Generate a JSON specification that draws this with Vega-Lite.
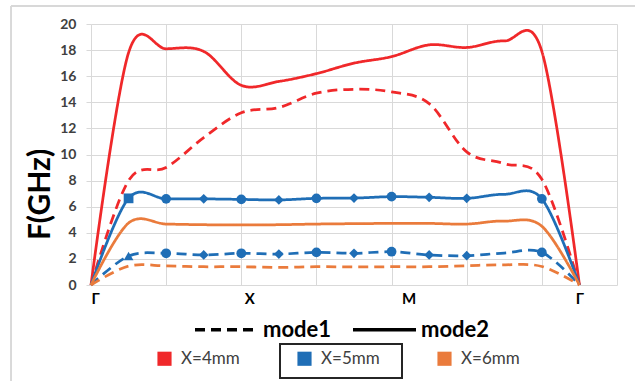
{
  "$schema": "https://vega.github.io/schema/vega-lite/v6.json",
  "autosize": "none",
  "width": 526,
  "height": 261,
  "padding": {"left": 91, "top": 24, "right": 18, "bottom": 96},
  "background": "white",
  "config": {"font": "Lato", "view": {"stroke": null}, "axis": {"labelOverlap": false}, "axisY": {"labelOverlap": false}},
  "data": {"values": [
    {"s": "X=4mm", "mode": "mode2", "i": 0, "f": 0},
    {"s": "X=4mm", "mode": "mode2", "i": 1, "f": 17.8},
    {"s": "X=4mm", "mode": "mode2", "i": 2, "f": 18.1},
    {"s": "X=4mm", "mode": "mode2", "i": 3, "f": 17.9},
    {"s": "X=4mm", "mode": "mode2", "i": 4, "f": 15.3},
    {"s": "X=4mm", "mode": "mode2", "i": 5, "f": 15.6},
    {"s": "X=4mm", "mode": "mode2", "i": 6, "f": 16.2},
    {"s": "X=4mm", "mode": "mode2", "i": 7, "f": 17.0},
    {"s": "X=4mm", "mode": "mode2", "i": 8, "f": 17.5},
    {"s": "X=4mm", "mode": "mode2", "i": 9, "f": 18.4},
    {"s": "X=4mm", "mode": "mode2", "i": 10, "f": 18.2},
    {"s": "X=4mm", "mode": "mode2", "i": 11, "f": 18.7},
    {"s": "X=4mm", "mode": "mode2", "i": 12, "f": 17.9},
    {"s": "X=4mm", "mode": "mode2", "i": 13, "f": 0},
    {"s": "X=4mm", "mode": "mode1", "i": 0, "f": 0},
    {"s": "X=4mm", "mode": "mode1", "i": 1, "f": 8.0},
    {"s": "X=4mm", "mode": "mode1", "i": 2, "f": 9.0},
    {"s": "X=4mm", "mode": "mode1", "i": 3, "f": 11.3},
    {"s": "X=4mm", "mode": "mode1", "i": 4, "f": 13.2},
    {"s": "X=4mm", "mode": "mode1", "i": 5, "f": 13.6},
    {"s": "X=4mm", "mode": "mode1", "i": 6, "f": 14.7},
    {"s": "X=4mm", "mode": "mode1", "i": 7, "f": 15.0},
    {"s": "X=4mm", "mode": "mode1", "i": 8, "f": 14.8},
    {"s": "X=4mm", "mode": "mode1", "i": 9, "f": 13.9},
    {"s": "X=4mm", "mode": "mode1", "i": 10, "f": 10.2},
    {"s": "X=4mm", "mode": "mode1", "i": 11, "f": 9.3},
    {"s": "X=4mm", "mode": "mode1", "i": 12, "f": 8.1},
    {"s": "X=4mm", "mode": "mode1", "i": 13, "f": 0},
    {"s": "X=5mm", "mode": "mode2", "i": 0, "f": 0},
    {"s": "X=5mm", "mode": "mode2", "i": 1, "f": 6.64, "mk": "s"},
    {"s": "X=5mm", "mode": "mode2", "i": 2, "f": 6.6, "mk": "o"},
    {"s": "X=5mm", "mode": "mode2", "i": 3, "f": 6.6, "mk": "d"},
    {"s": "X=5mm", "mode": "mode2", "i": 4, "f": 6.56, "mk": "o"},
    {"s": "X=5mm", "mode": "mode2", "i": 5, "f": 6.52, "mk": "d"},
    {"s": "X=5mm", "mode": "mode2", "i": 6, "f": 6.64, "mk": "o"},
    {"s": "X=5mm", "mode": "mode2", "i": 7, "f": 6.66, "mk": "d"},
    {"s": "X=5mm", "mode": "mode2", "i": 8, "f": 6.77, "mk": "o"},
    {"s": "X=5mm", "mode": "mode2", "i": 9, "f": 6.72, "mk": "d"},
    {"s": "X=5mm", "mode": "mode2", "i": 10, "f": 6.64, "mk": "d"},
    {"s": "X=5mm", "mode": "mode2", "i": 11, "f": 6.95},
    {"s": "X=5mm", "mode": "mode2", "i": 12, "f": 6.6, "mk": "o"},
    {"s": "X=5mm", "mode": "mode2", "i": 13, "f": 0},
    {"s": "X=5mm", "mode": "mode1", "i": 0, "f": 0},
    {"s": "X=5mm", "mode": "mode1", "i": 1, "f": 2.22, "mk": "t"},
    {"s": "X=5mm", "mode": "mode1", "i": 2, "f": 2.43, "mk": "o"},
    {"s": "X=5mm", "mode": "mode1", "i": 3, "f": 2.3, "mk": "d"},
    {"s": "X=5mm", "mode": "mode1", "i": 4, "f": 2.43, "mk": "o"},
    {"s": "X=5mm", "mode": "mode1", "i": 5, "f": 2.37, "mk": "d"},
    {"s": "X=5mm", "mode": "mode1", "i": 6, "f": 2.5, "mk": "o"},
    {"s": "X=5mm", "mode": "mode1", "i": 7, "f": 2.43, "mk": "d"},
    {"s": "X=5mm", "mode": "mode1", "i": 8, "f": 2.55, "mk": "o"},
    {"s": "X=5mm", "mode": "mode1", "i": 9, "f": 2.3, "mk": "d"},
    {"s": "X=5mm", "mode": "mode1", "i": 10, "f": 2.25, "mk": "d"},
    {"s": "X=5mm", "mode": "mode1", "i": 11, "f": 2.45},
    {"s": "X=5mm", "mode": "mode1", "i": 12, "f": 2.5, "mk": "o"},
    {"s": "X=5mm", "mode": "mode1", "i": 13, "f": 0},
    {"s": "X=6mm", "mode": "mode2", "i": 0, "f": 0},
    {"s": "X=6mm", "mode": "mode2", "i": 1, "f": 4.75},
    {"s": "X=6mm", "mode": "mode2", "i": 2, "f": 4.67},
    {"s": "X=6mm", "mode": "mode2", "i": 3, "f": 4.62},
    {"s": "X=6mm", "mode": "mode2", "i": 4, "f": 4.6},
    {"s": "X=6mm", "mode": "mode2", "i": 5, "f": 4.62},
    {"s": "X=6mm", "mode": "mode2", "i": 6, "f": 4.67},
    {"s": "X=6mm", "mode": "mode2", "i": 7, "f": 4.7},
    {"s": "X=6mm", "mode": "mode2", "i": 8, "f": 4.72},
    {"s": "X=6mm", "mode": "mode2", "i": 9, "f": 4.72},
    {"s": "X=6mm", "mode": "mode2", "i": 10, "f": 4.67},
    {"s": "X=6mm", "mode": "mode2", "i": 11, "f": 4.9},
    {"s": "X=6mm", "mode": "mode2", "i": 12, "f": 4.5},
    {"s": "X=6mm", "mode": "mode2", "i": 13, "f": 0},
    {"s": "X=6mm", "mode": "mode1", "i": 0, "f": 0},
    {"s": "X=6mm", "mode": "mode1", "i": 1, "f": 1.45},
    {"s": "X=6mm", "mode": "mode1", "i": 2, "f": 1.46},
    {"s": "X=6mm", "mode": "mode1", "i": 3, "f": 1.4},
    {"s": "X=6mm", "mode": "mode1", "i": 4, "f": 1.4},
    {"s": "X=6mm", "mode": "mode1", "i": 5, "f": 1.35},
    {"s": "X=6mm", "mode": "mode1", "i": 6, "f": 1.4},
    {"s": "X=6mm", "mode": "mode1", "i": 7, "f": 1.38},
    {"s": "X=6mm", "mode": "mode1", "i": 8, "f": 1.4},
    {"s": "X=6mm", "mode": "mode1", "i": 9, "f": 1.4},
    {"s": "X=6mm", "mode": "mode1", "i": 10, "f": 1.48},
    {"s": "X=6mm", "mode": "mode1", "i": 11, "f": 1.55},
    {"s": "X=6mm", "mode": "mode1", "i": 12, "f": 1.42},
    {"s": "X=6mm", "mode": "mode1", "i": 13, "f": 0}
  ]},
  "resolve": {"axis": {"x": "independent"}},
  "layer": [
    {
      "mark": {"type": "rect", "fill": null, "stroke": "#d9d9d9", "strokeWidth": 1, "clip": false},
      "encoding": {
        "x": {"datum": -2.13, "type": "quantitative", "axis": null},
        "x2": {"datum": 20},
        "y": {"datum": 21.38, "type": "quantitative"},
        "y2": {"datum": -20}
      }
    },
    {
      "mark": {"type": "line", "interpolate": "cardinal", "strokeWidth": 2.75},
      "encoding": {
        "x": {"field": "i", "type": "quantitative", "scale": {"domain": [0, 14], "nice": false},
              "axis": {"orient": "bottom", "values": [0, 2, 4, 6, 8, 10, 12, 14], "grid": true, "gridColor": "#d9d9d9", "gridWidth": 1,
                       "labels": false, "ticks": false, "domain": false, "title": null}},
        "y": {"field": "f", "type": "quantitative", "scale": {"domain": [0, 20], "nice": false},
              "axis": {"tickCount": 10, "grid": true, "gridColor": "#d9d9d9", "gridWidth": 1,
                       "domain": false, "ticks": true, "tickSize": 5, "tickColor": "#d9d9d9", "labelOverlap": false, "labelBound": false,
                       "labelFont": "Lato", "labelFontSize": 14, "labelFontWeight": "bold", "labelColor": "#404040", "labelPadding": 10,
                       "title": "F(GHz)", "titleFont": "Lato", "titleFontSize": 30, "titleFontWeight": "bold", "titleColor": "black",
                       "titleAngle": 270, "titleBaseline": "middle", "titleAlign": "center", "titleX": -51, "titleY": 170}},
        "color": {"field": "s", "type": "nominal",
                  "scale": {"domain": ["X=4mm", "X=5mm", "X=6mm"], "range": ["#F0282A", "#1F6EB6", "#EA7B3C"]},
                  "legend": {"orient": "none", "legendX": 65, "legendY": 326, "direction": "horizontal", "title": null,
                             "symbolType": "square", "symbolSize": 200, "symbolStrokeWidth": 0,
                             "labelFont": "Lato", "labelFontSize": 17, "labelColor": "#404040",
                             "columnPadding": 56, "labelOffset": 8, "padding": 0,
                             "encode": {"symbols": {"update": {"fill": {"scale": "color", "field": "value"}, "fillOpacity": {"value": 1}, "opacity": {"value": 1}}}}}},
        "strokeDash": {"field": "mode", "type": "nominal",
                       "scale": {"domain": ["mode1", "mode2"], "range": [[10, 6], [1, 0]]},
                       "legend": {"orient": "none", "legendX": 102, "legendY": 272, "direction": "horizontal", "title": null,
                                  "symbolType": "stroke", "symbolSize": 3969, "symbolStrokeColor": "black", "symbolStrokeWidth": 3.5,
                                  "labelFont": "Lato", "labelFontSize": 22, "labelFontWeight": "bold", "labelColor": "black",
                                  "labelOffset": 3, "columnPadding": 14, "padding": 0}},
        "detail": {"field": "mode"}
      }
    },
    {
      "transform": [{"filter": "isValid(datum.mk)"}],
      "mark": {"type": "point", "filled": true, "opacity": 1, "color": "#1F6EB6", "size": 95},
      "encoding": {
        "x": {"field": "i", "type": "quantitative",
              "axis": {"orient": "bottom", "values": [0, 4.21, 8.45, 13], "grid": false, "ticks": false, "domain": false,
                       "labelExpr": "datum.value == 0 || datum.value == 13 ? 'Γ' : (datum.value < 6 ? 'X' : 'M')",
                       "labelFont": "Lato", "labelFontSize": 15, "labelFontWeight": "bold", "labelColor": "black",
                       "labelPadding": 6, "labelBaseline": "top", "title": null}},
        "y": {"field": "f", "type": "quantitative"},
        "shape": {"field": "mk", "type": "nominal",
                  "scale": {"domain": ["o", "d", "s", "t"], "range": ["circle", "diamond", "square", "triangle-up"]},
                  "legend": null}
      }
    },
    {
      "mark": {"type": "rect", "fill": null, "stroke": "#262626", "strokeWidth": 1.3, "clip": false},
      "encoding": {
        "x": {"datum": 5.03, "type": "quantitative", "axis": null},
        "x2": {"datum": 8.28},
        "y": {"datum": -4.52, "type": "quantitative"},
        "y2": {"datum": -7.13}
      }
    }
  ]
}
